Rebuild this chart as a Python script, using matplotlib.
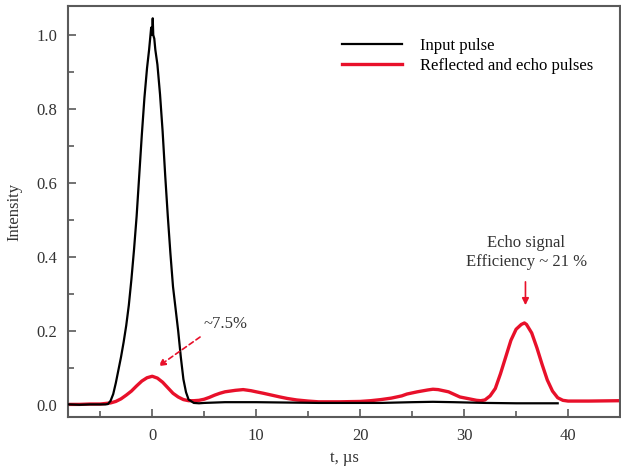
import matplotlib
matplotlib.use('Agg')
import matplotlib.pyplot as plt
from matplotlib.ticker import MultipleLocator

# input pulse (black)
t_input = [-8, -7, -6, -5, -4.5, -4.25, -4, -3.75, -3.5, -3.25, -3, -2.75, -2.5,
           -2.25, -2, -1.75, -1.5, -1.25, -1, -0.75, -0.5, -0.3, -0.2, -0.1, 0,
           0.05, 0.1, 0.2, 0.3, 0.5, 0.75, 1, 1.25, 1.5, 1.75, 2, 2.25, 2.5,
           2.75, 3, 3.25, 3.5, 4, 4.5, 5, 7, 10, 13, 16, 19, 22, 25, 27, 29,
           32, 35, 37, 39]
i_input = [0.002, 0.001, 0.002, 0.002, 0.002, 0.003, 0.012, 0.03, 0.06, 0.095,
           0.13, 0.17, 0.215, 0.27, 0.34, 0.42, 0.51, 0.62, 0.73, 0.83, 0.91,
           0.96, 0.99, 1.02, 1.0, 1.045, 1.0, 0.99, 0.96, 0.92, 0.84, 0.74,
           0.62, 0.51, 0.41, 0.32, 0.26, 0.2, 0.13, 0.07, 0.035, 0.015, 0.006,
           0.005, 0.006, 0.008, 0.008, 0.007, 0.006, 0.006, 0.006, 0.008,
           0.009, 0.008, 0.006, 0.005, 0.005, 0.005]

# reflected + echo pulses (red)
t_echo = [-8, -7, -6, -5, -4, -3.5, -3, -2.5, -2, -1.5, -1, -0.5, 0, 0.5, 1,
          1.5, 2, 2.5, 3, 3.5, 4, 4.5, 5, 5.5, 6, 6.5, 7, 7.5, 8, 8.75, 9.5,
          10, 10.7, 11.5, 12.3, 13, 13.9, 15, 16, 18, 20, 21, 22, 23, 24,
          24.5, 25.5, 26.5, 27, 27.5, 28.5, 29.6, 30.5, 31.2, 31.6, 32, 32.5,
          33, 33.5, 34, 34.5, 35, 35.5, 35.8, 36, 36.5, 37, 37.5, 38, 38.5,
          39, 39.5, 40, 42, 45]
i_echo = [0.002, 0.002, 0.003, 0.003, 0.006, 0.01, 0.017, 0.027, 0.038,
          0.052, 0.065, 0.074, 0.078, 0.073, 0.062, 0.047, 0.032, 0.022,
          0.015, 0.012, 0.012, 0.013, 0.016, 0.021, 0.027, 0.032, 0.036,
          0.038, 0.040, 0.042, 0.039, 0.036, 0.032, 0.027, 0.022, 0.018,
          0.014, 0.011, 0.009, 0.009, 0.010, 0.012, 0.015, 0.019, 0.025,
          0.03, 0.036, 0.041, 0.043, 0.042, 0.036, 0.022, 0.017, 0.013,
          0.012, 0.014, 0.025, 0.045, 0.085, 0.13, 0.175, 0.205, 0.218,
          0.222, 0.218, 0.195, 0.155, 0.11, 0.068, 0.038, 0.02, 0.013, 0.011,
          0.011, 0.012]

RED = '#e8102a'


def main():
    plt.rcParams['font.family'] = ['Liberation Serif', 'DejaVu Serif']
    plt.rcParams['font.size'] = 12

    fig = plt.figure(figsize=(6.21, 4.68), dpi=100)
    ax = fig.add_axes([0.1095, 0.109, 0.889, 0.878])

    ax.plot(t_echo, i_echo, color=RED, lw=2.4, label='Reflected and echo pulses', zorder=2)
    ax.plot(t_input, i_input, color='black', lw=1.6, label='Input pulse', zorder=3)

    ax.set_xlim(-8.1, 45)
    ax.set_ylim(-0.032, 1.078)
    ax.xaxis.set_major_locator(MultipleLocator(10))
    ax.xaxis.set_minor_locator(MultipleLocator(5))
    ax.yaxis.set_major_locator(MultipleLocator(0.2))
    ax.yaxis.set_minor_locator(MultipleLocator(0.1))
    ax.yaxis.set_major_formatter(plt.FormatStrFormatter('%.1f'))

    for s in ax.spines.values():
        s.set_color('#5a5a5a')
        s.set_linewidth(1.5)
    ax.tick_params(which='both', direction='in', colors='#5a5a5a', labelcolor='#333333',
                   width=1.2, labelsize=12, pad=8)
    ax.tick_params(which='major', length=6)
    ax.tick_params(which='minor', length=4)

    ax.set_xlabel('t, \u00b5s', fontsize=12, color='#333333')
    ax.set_ylabel('Intensity', fontsize=12, color='#333333', labelpad=10)

    # legend: black first
    h, l = ax.get_legend_handles_labels()
    ax.legend(h[::-1], l[::-1], loc='upper left', bbox_to_anchor=(0.496, 0.923),
              frameon=False, borderpad=0, borderaxespad=0, handlelength=3.6,
              handletextpad=1.1, labelspacing=0.25, fontsize=12)

    # annotations
    ax.annotate('', xy=(0.6, 0.105), xytext=(4.6, 0.184),
                arrowprops=dict(arrowstyle='-|>', color=RED, lw=1.2,
                                linestyle=(0, (3, 2)), mutation_scale=10,
                                shrinkA=0, shrinkB=0))
    ax.text(4.9, 0.22, '~7.5%', ha='left', va='center', color='#333333', fontsize=12)

    ax.annotate('', xy=(35.9, 0.27), xytext=(35.9, 0.333),
                arrowprops=dict(arrowstyle='-|>', color=RED, lw=1.2,
                                mutation_scale=10, shrinkA=0, shrinkB=0))
    ax.text(36.0, 0.411, 'Echo signal\nEfficiency ~ 21 %', ha='center', va='center',
            multialignment='center', color='#333333', fontsize=12, linespacing=1.25)

    fig.savefig('out.png', dpi=100)


if __name__ == '__main__':
    main()
